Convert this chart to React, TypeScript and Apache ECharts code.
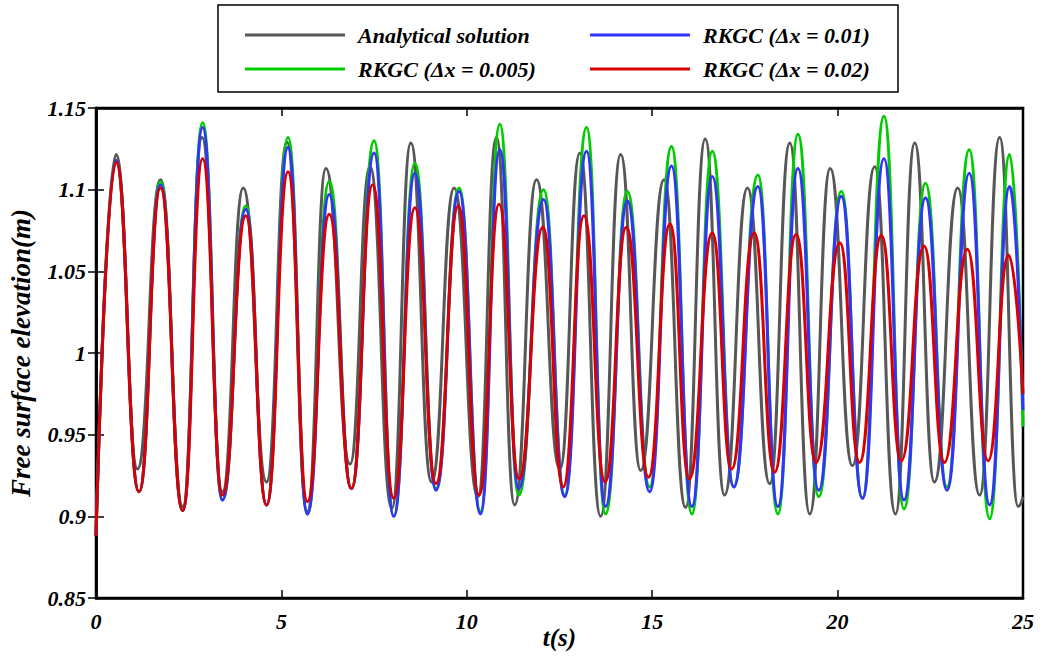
import React, { useEffect, useRef } from "react";
import * as echarts from "echarts";

// Peaks / troughs: [t (s), elevation (m)]
const analytical: [number, number][] = [
  [0, 0.888], [0.54, 1.1215], [1.12, 0.929], [1.74, 1.106], [2.34, 0.906], [2.86, 1.132],
  [3.41, 0.915], [3.97, 1.101], [4.6, 0.921], [5.15, 1.129], [5.7, 0.903], [6.2, 1.113],
  [6.85, 0.932], [7.39, 1.114], [7.98, 0.905], [8.49, 1.1286], [9.05, 0.921], [9.66, 1.101],
  [10.3, 0.912], [10.8, 1.132], [11.29, 0.907], [11.88, 1.106], [12.51, 0.929], [13.05, 1.1225],
  [13.61, 0.9], [14.15, 1.1215], [14.69, 0.928], [15.32, 1.106], [15.9, 0.9055], [16.43, 1.131],
  [16.95, 0.913], [17.57, 1.101], [18.17, 0.92], [18.71, 1.1286], [19.25, 0.9015], [19.8, 1.113],
  [20.4, 0.931], [21.0, 1.114], [21.56, 0.9015], [22.08, 1.1286], [22.61, 0.921], [23.24, 1.101],
  [23.83, 0.913], [24.37, 1.132], [24.87, 0.906], [25, 0.912],
];

const rkgc005: [number, number][] = [
  [0, 0.888], [0.54, 1.118], [1.16, 0.915], [1.74, 1.105], [2.34, 0.9035], [2.876, 1.141],
  [3.41, 0.91], [4.04, 1.09], [4.6, 0.907], [5.18, 1.132], [5.7, 0.9015], [6.29, 1.105],
  [6.89, 0.917], [7.5, 1.13], [8.03, 0.9], [8.6, 1.116], [9.17, 0.917], [9.79, 1.101],
  [10.37, 0.903], [10.89, 1.14], [11.4, 0.913], [12.07, 1.1], [12.64, 0.913], [13.23, 1.138],
  [13.74, 0.9015], [14.33, 1.099], [14.93, 0.918], [15.52, 1.1265], [16.07, 0.9015], [16.62, 1.1235],
  [17.2, 0.918], [17.85, 1.109], [18.39, 0.9015], [18.93, 1.134], [19.49, 0.912], [20.1, 1.099],
  [20.67, 0.911], [21.25, 1.145], [21.79, 0.9045], [22.37, 1.104], [22.95, 0.918], [23.55, 1.1245],
  [24.1, 0.8985], [24.64, 1.1215], [25, 0.955],
];

const rkgc01: [number, number][] = [
  [0, 0.888], [0.54, 1.118], [1.16, 0.915], [1.74, 1.103], [2.34, 0.9035], [2.876, 1.138],
  [3.41, 0.91], [4.04, 1.088], [4.6, 0.907], [5.18, 1.126], [5.7, 0.9015], [6.29, 1.097],
  [6.89, 0.917], [7.5, 1.1225], [8.03, 0.9], [8.6, 1.11], [9.17, 0.916], [9.79, 1.099],
  [10.37, 0.9015], [10.89, 1.1245], [11.4, 0.917], [12.07, 1.094], [12.64, 0.912], [13.23, 1.1235],
  [13.74, 0.906], [14.33, 1.093], [14.93, 0.915], [15.52, 1.1145], [16.07, 0.906], [16.62, 1.108],
  [17.2, 0.918], [17.85, 1.102], [18.39, 0.906], [18.93, 1.113], [19.49, 0.916], [20.1, 1.096],
  [20.67, 0.911], [21.25, 1.119], [21.79, 0.91], [22.37, 1.095], [22.95, 0.916], [23.55, 1.11],
  [24.1, 0.907], [24.64, 1.102], [25, 0.965],
];

const rkgc02: [number, number][] = [
  [0, 0.888], [0.54, 1.117], [1.16, 0.915], [1.74, 1.101], [2.34, 0.9035], [2.876, 1.119],
  [3.41, 0.913], [4.04, 1.084], [4.6, 0.907], [5.18, 1.111], [5.7, 0.909], [6.29, 1.085],
  [6.89, 0.917], [7.46, 1.103], [8.03, 0.911], [8.6, 1.089], [9.17, 0.92], [9.77, 1.09],
  [10.33, 0.913], [10.87, 1.091], [11.41, 0.923], [12.05, 1.077], [12.6, 0.918], [13.16, 1.084],
  [13.73, 0.921], [14.3, 1.077], [14.9, 0.924], [15.48, 1.079], [16.0, 0.923], [16.62, 1.0735],
  [17.14, 0.929], [17.75, 1.0735], [18.3, 0.927], [18.88, 1.0726], [19.42, 0.933], [20.06, 1.0675],
  [20.59, 0.933], [21.18, 1.072], [21.72, 0.934], [22.33, 1.0655], [22.88, 0.933], [23.5, 1.0635],
  [24.06, 0.934], [24.61, 1.06], [25, 0.975],
];

const seriesNames = [
  "Analytical solution",
  "RKGC (Δx = 0.005)",
  "RKGC (Δx = 0.01)",
  "RKGC (Δx = 0.02)",
];
const seriesColors = ["#575757", "#00cc00", "#3333ff", "#d80000"];
const seriesData = [analytical, rkgc005, rkgc01, rkgc02];

const xMin = 0, xMax = 25, xStep = 5;
const yMin = 0.85, yMax = 1.15, yStep = 0.05;

const FONT = "Liberation Serif";
const textBase = { fontFamily: FONT, fontStyle: "italic" as const, fontWeight: "bold" as const, color: "#000" };

export default function App() {
  const ref = useRef<HTMLDivElement>(null);
  useEffect(() => {
    document.body.style.margin = "0";
    if (!ref.current) return;
    const chart = echarts.init(ref.current, null, { renderer: "svg" });
    const axisLineStyle = { lineStyle: { color: "#000", width: 2.5 } };
    const tick = { show: true, inside: true, length: 8, lineStyle: { color: "#000", width: 1.5 } };
    chart.setOption({
      animation: false,
      backgroundColor: "#fff",
      grid: {
        left: 96, right: 19, top: 108, bottom: 59, show: true,
        borderColor: "#000", borderWidth: 2.5, backgroundColor: "transparent",
        containLabel: false, outerBoundsMode: "none",
      },
      legend: [
        {
          data: [seriesNames[0], seriesNames[1]],
          orient: "vertical", left: 240, top: 19, itemWidth: 100, itemHeight: 3, itemGap: 12,
          icon: "rect",
          textStyle: { ...textBase, fontSize: 22, padding: [0, 0, 0, 8] },
        },
        {
          data: [seriesNames[2], seriesNames[3]],
          orient: "vertical", left: 585, top: 19, itemWidth: 100, itemHeight: 3, itemGap: 12,
          icon: "rect",
          textStyle: { ...textBase, fontSize: 22, padding: [0, 0, 0, 8] },
        },
      ],
      graphic: [
        { type: "rect", shape: { x: 218, y: 5, width: 680, height: 87 }, style: { fill: "none", stroke: "#000", lineWidth: 1.5 }, silent: true },
      ],
      xAxis: [
        {
          type: "value", min: xMin, max: xMax, interval: xStep,
          name: "t(s)", nameLocation: "middle", nameGap: 27, nameMoveOverlap: false,
          nameTextStyle: { ...textBase, fontSize: 25 },
          axisLine: { show: true, ...axisLineStyle }, axisTick: tick,
          axisLabel: { ...textBase, fontSize: 22, margin: 12 },
          splitLine: { show: false },
        },
        {
          type: "value", min: xMin, max: xMax, interval: xStep, position: "top",
          axisLine: { show: true, ...axisLineStyle }, axisTick: tick,
          axisLabel: { show: false }, splitLine: { show: false },
        },
      ],
      yAxis: [
        {
          type: "value", min: yMin, max: yMax, interval: yStep,
          name: "Free surface elevation(m)", nameLocation: "middle", nameGap: 62, nameRotate: 90,
          nameTextStyle: { ...textBase, fontSize: 27 },
          axisLine: { show: true, ...axisLineStyle }, axisTick: tick,
          axisLabel: { ...textBase, fontSize: 22, margin: 10, formatter: (v: number) => String(+v.toFixed(2)) },
          splitLine: { show: false },
        },
        {
          type: "value", min: yMin, max: yMax, interval: yStep, position: "right",
          axisLine: { show: true, ...axisLineStyle }, axisTick: tick,
          axisLabel: { show: false }, splitLine: { show: false },
        },
      ],
      series: seriesData.map((d, i) => ({
        name: seriesNames[i],
        type: "line",
        data: d,
        smooth: 0.5,
        smoothMonotone: "x",
        showSymbol: false,
        symbol: "none",
        color: seriesColors[i],
        lineStyle: { color: seriesColors[i], width: 3 },
        z: 2 + i,
      })),
    });
    return () => chart.dispose();
  }, []);
  return <div ref={ref} style={{ width: 1042, height: 657 }} />;
}
